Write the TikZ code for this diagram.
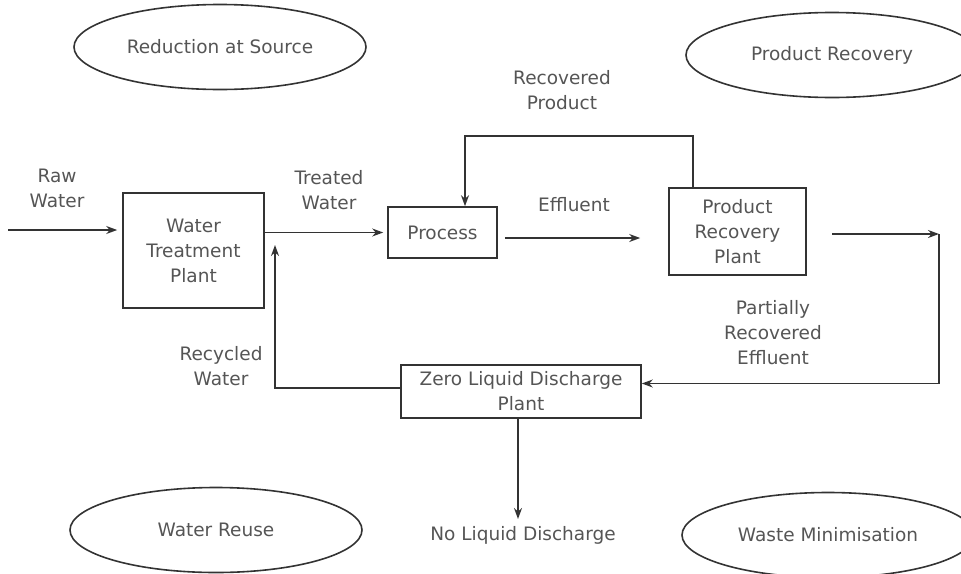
\documentclass[tikz,border=0pt]{standalone}
\usepackage{fontspec}
\setmainfont{DejaVu Sans}
\usepackage{tikz}
\usetikzlibrary{arrows.meta, shapes.geometric, calc}

\definecolor{inkline}{HTML}{333333}
\definecolor{inktext}{HTML}{555555}

\begin{document}
\begin{tikzpicture}[
  x=1pt, y=-1pt,
  unit/.style={draw=inkline, line width=1.6pt, inner sep=0pt, align=center, text=inktext, font=\fontsize{18.5}{25}\selectfont},
  theme/.style={draw=inkline, line width=1.6pt, ellipse, minimum width=292pt, minimum height=85pt, text=inktext, font=\fontsize{18.5}{25}\selectfont},
  stream/.style={align=center, text=inktext, font=\fontsize{18.5}{25}\selectfont},
  pipe/.style={draw=inkline, line width=1.6pt},
  >={Stealth[length=11pt, width=8pt]}
]
\clip (0,0) rectangle (961,573);

% Approaches (corners)
\node[theme] (source) at (220,47) {Reduction at Source};
\node[theme] (recovery) at (832,55) {Product Recovery};
\node[theme] (reuse) at (216,530) {Water Reuse};
\node[theme] (minimise) at (828,535) {Waste Minimisation};

% Plant units
\node[unit, minimum width=141pt, minimum height=115pt] (wtp) at (193.5,250.5) {Water\\Treatment\\Plant};
\node[unit, minimum width=109pt, minimum height=51pt] (process) at (442.5,232.5) {Process};
\node[unit, minimum width=137pt, minimum height=87pt] (prp) at (737.5,231.5) {Product\\Recovery\\Plant};
\node[unit, minimum width=240pt, minimum height=53pt] (zld) at (521,391.5) {Zero Liquid Discharge\\Plant};

% Free ends
\coordinate (rawin) at (8,230);
\coordinate (prpout) at (832,234);
\coordinate (corner) at (939,234);
\coordinate (rectip) at (275,245);
\coordinate (nld) at (518,519);

% Main stream
\draw[pipe, ->, shorten >=5pt] (rawin) -- (rawin -| wtp.west);
\draw[pipe, ->, shorten >=4pt] (process.west -| wtp.east) -- (process.west);
\draw[pipe, ->, shorten <=7pt, shorten >=28pt] ([yshift=-5.5pt]process.east) -- ([yshift=-5.5pt]process.east -| prp.west);
\draw[pipe, ->] (prpout) -- (corner);
\draw[pipe, ->] (corner) |- ([yshift=8pt]zld.east);

% Loops back
\draw[pipe, ->] ([xshift=-44.5pt]prp.north) -- ++(0,-51) -| ([xshift=22.5pt]process.north);
\draw[pipe, ->] ([yshift=3.5pt]zld.west) -| (rectip);
\draw[pipe, ->] ([xshift=-3pt]zld.south) -- (nld);

% Stream labels
\node[stream] (raw) at (57,188) {Raw\\Water};
\node[stream] (treated) at (329,190) {Treated\\Water};
\node[stream] (effluent) at (574,205) {Effluent};
\node[stream] (recprod) at (562,90) {Recovered\\Product};
\node[stream] (partial) at (773,333) {Partially\\Recovered\\Effluent};
\node[stream] (recycled) at (221,366) {Recycled\\Water};
\node[stream] (noliquid) at (523,535) {No Liquid Discharge};

\end{tikzpicture}
\end{document}
